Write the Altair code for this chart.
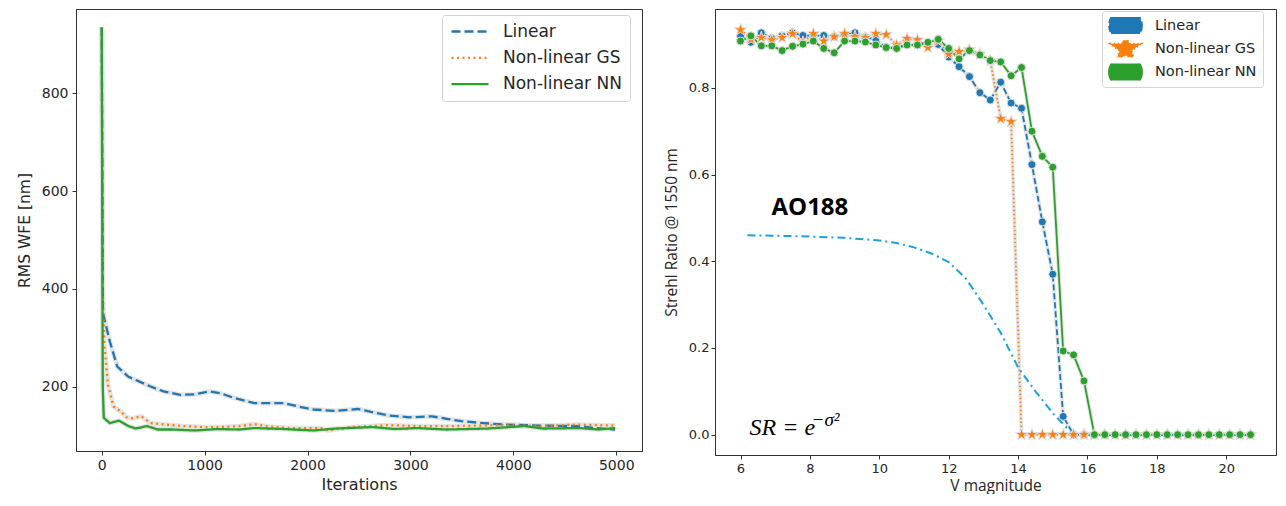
import altair as alt
import pandas as pd

SERIES = ["Linear", "Non-linear GS", "Non-linear NN"]
COLORS = ["#1f77b4", "#ff7f0e", "#2ca02c"]
STAR = ("M0,-1L0.223,-0.307L0.951,-0.309L0.361,0.117L0.588,0.809L0,0.38L-0.588,0.809"
        "L-0.361,0.117L-0.951,-0.309L-0.223,-0.307Z")

lin_it = [0, 12, 25, 79, 151, 259, 367, 475, 601, 763, 906, 1050, 1158, 1266, 1482, 1770,
          1914, 2058, 2273, 2489, 2597, 2777, 2993, 3209, 3353, 3496, 3712, 3928, 4288,
          4647, 4791, 4989]
lin_v = [935, 352, 339, 292, 241, 220, 210, 200, 190, 183, 184, 190, 186, 178, 166, 166,
         159, 153, 150, 154, 149, 141, 137, 139, 134, 129, 125, 122, 120, 119, 115, 112]
gs_it = [0, 10, 25, 61, 115, 187, 241, 300, 385, 475, 619, 799, 978, 1158, 1338, 1482,
         1626, 1842, 2129, 2201, 2417, 2777, 3065, 3424, 3856, 4288, 4612, 4989]
gs_v = [935, 400, 285, 203, 159, 149, 137, 135, 139, 125, 122, 119, 117, 117, 119, 123,
        118, 115, 115, 110, 117, 121, 119, 119, 121, 119, 122, 120]
nn_it = [0, 10, 20, 79, 169, 259, 331, 439, 547, 691, 906, 1122, 1338, 1482, 1770, 2058,
         2273, 2633, 2849, 3065, 3353, 3748, 4108, 4288, 4647, 4827, 4989]
nn_v = [935, 200, 136, 125, 130, 119, 114, 119, 112, 112, 110, 113, 112, 115, 113, 110,
        114, 117, 113, 115, 112, 114, 119, 114, 115, 112, 115]

mag = [6.0, 6.3, 6.6, 6.9, 7.2, 7.5, 7.8, 8.1, 8.4, 8.7, 9.0, 9.3, 9.6, 9.9, 10.2, 10.5,
       10.8, 11.1, 11.4, 11.7, 12.0, 12.3, 12.6, 12.9, 13.2, 13.5, 13.8, 14.1, 14.4, 14.7,
       15.0, 15.3, 15.6, 15.9, 16.2, 16.5, 16.8, 17.1, 17.4, 17.7, 18.0, 18.3, 18.6, 18.9,
       19.2, 19.5, 19.8, 20.1, 20.4, 20.7]
linear_sr = [0.92, 0.905, 0.927, 0.914, 0.92, 0.927, 0.921, 0.92, 0.921, 0.918, 0.923, 0.927,
             0.916, 0.912, 0.893, 0.893, 0.90, 0.899, 0.90, 0.90, 0.871, 0.849, 0.826, 0.789,
             0.772, 0.813, 0.765, 0.753, 0.623, 0.491, 0.37, 0.042, 0, 0, 0, 0, 0, 0, 0, 0,
             0, 0, 0, 0, 0, 0, 0, 0, 0, 0]
gs_sr = [0.934, 0.912, 0.916, 0.911, 0.916, 0.925, 0.905, 0.925, 0.908, 0.918, 0.925, 0.918,
         0.916, 0.925, 0.923, 0.899, 0.914, 0.911, 0.893, 0.908, 0.878, 0.884, 0.888, 0.878,
         0.863, 0.729, 0.722, 0, 0, 0, 0, 0, 0, 0, 0, 0, 0, 0, 0, 0, 0, 0, 0, 0, 0, 0, 0, 0,
         0, 0]
nn_sr = [0.908, 0.92, 0.897, 0.897, 0.886, 0.896, 0.901, 0.908, 0.891, 0.881, 0.908, 0.908,
         0.906, 0.899, 0.893, 0.891, 0.899, 0.899, 0.905, 0.912, 0.891, 0.867, 0.886, 0.876,
         0.863, 0.86, 0.828, 0.847, 0.70, 0.642, 0.617, 0.193, 0.184, 0.124, 0, 0, 0, 0, 0,
         0, 0, 0, 0, 0, 0, 0, 0, 0, 0, 0]

theory_x = [6.2, 7.0, 8.0, 9.0, 10.0, 10.5, 11.0, 11.5, 12.0, 12.5, 13.0, 13.5, 14.0, 14.5,
            15.0, 15.4, 15.7, 20.7]
theory_y = [0.46, 0.459, 0.457, 0.454, 0.448, 0.442, 0.432, 0.418, 0.398, 0.36, 0.30, 0.235,
            0.155, 0.10, 0.05, 0.016, 0.0, 0.0]

note_text = ["AO188", "SR = e", "\u2212\u03c3\u00b2"]
note_x = [8.0, 6.26, 8.05]
note_y = [0.523, 0.0, 0.02]
note_kind = ["label", "formula", "sup"]

left_df = pd.DataFrame({
    "iter": lin_it + gs_it + nn_it,
    "rms": lin_v + gs_v + nn_v,
    "series": [SERIES[0]] * len(lin_it) + [SERIES[1]] * len(gs_it) + [SERIES[2]] * len(nn_it),
})
right_df = pd.DataFrame({
    "mag": mag * 3,
    "sr": linear_sr + gs_sr + nn_sr,
    "series": [SERIES[0]] * 50 + [SERIES[1]] * 50 + [SERIES[2]] * 50,
    "marker": [SERIES[0]] * 50 + [SERIES[1]] * 50 + [SERIES[2]] * 50,
})
theory_df = pd.DataFrame({"mag": theory_x, "sr": theory_y})
notes_df = pd.DataFrame({"mag": note_x, "sr": note_y, "t": note_text, "kind": note_kind})

AX = dict(domainColor="#333333", tickColor="#333333", labelColor="#262626",
          titleColor="#262626", grid=False, tickSize=4, titleFontWeight="normal")

# ---------------- left panel ----------------
xl = alt.X("iter:Q", scale=alt.Scale(domain=[-250, 5250], nice=False, zero=False),
           axis=alt.Axis(values=[0, 1000, 2000, 3000, 4000, 5000], format="d", title="Iterations",
                         labelFont="DejaVu Sans", labelFontSize=14, titleFont="DejaVu Sans",
                         titleFontSize=16, labelPadding=3, titlePadding=4, **AX))
yl = alt.Y("rms:Q", scale=alt.Scale(domain=[68, 973], nice=False, zero=False),
           axis=alt.Axis(values=[200, 400, 600, 800], title="RMS WFE [nm]",
                         labelFont="DejaVu Sans", labelFontSize=14, titleFont="DejaVu Sans",
                         titleFontSize=15.5, labelPadding=4, titlePadding=9, **AX))

leg_left = alt.Legend(title=None, orient="none", legendX=366, legendY=6, symbolType="stroke",
                      symbolSize=1369, symbolStrokeWidth=2.3, labelFont="DejaVu Sans",
                      labelFontSize=17, labelColor="#262626", labelOffset=13, padding=8,
                      clipHeight=17, rowPadding=8.3, fillColor="white", strokeColor="#d4d4d4",
                      cornerRadius=3, labelLimit=400)

left_base = alt.Chart(left_df)
left_halo = left_base.mark_line(strokeWidth=4.8, color="#e4e4e4").encode(
    x=xl, y=yl, detail="series:N")
left_lines = left_base.mark_line(strokeWidth=2.3).encode(
    x=xl, y=yl,
    color=alt.Color("series:N", scale=alt.Scale(domain=SERIES, range=COLORS), legend=leg_left),
    strokeDash=alt.StrokeDash("series:N", scale=alt.Scale(domain=SERIES, range=[[9, 4], [2, 3.5], [1, 0]]),
                              legend=leg_left),
)
left = alt.layer(left_halo, left_lines).properties(width=566, height=442)

# ---------------- right panel ----------------
xr = alt.X("mag:Q", scale=alt.Scale(domain=[5.265, 21.435], nice=False, zero=False),
           axis=alt.Axis(values=[6, 8, 10, 12, 14, 16, 18, 20], title="V magnitude",
                         labelFont="DejaVu Sans", labelFontSize=13, titleFont="Open Sans",
                         titleFontSize=15.5, labelPadding=3, titlePadding=3, **AX))
yr = alt.Y("sr:Q", scale=alt.Scale(domain=[-0.047, 0.982], nice=False, zero=False),
           axis=alt.Axis(values=[0.0, 0.2, 0.4, 0.6, 0.8], format=".1f",
                         title="Strehl Ratio @ 1550 nm", labelFont="DejaVu Sans",
                         labelFontSize=13, titleFont="Open Sans", titleFontSize=15.5,
                         labelPadding=2, titlePadding=9, **AX))

leg_r_lines = alt.Legend(title=None, orient="none", legendX=387, legendY=2, symbolType="stroke",
                         symbolSize=1089, symbolStrokeWidth=1.8, labelFont="DejaVu Sans",
                         labelFontSize=14.5, labelColor="#262626", labelOffset=12, padding=6,
                         clipHeight=17, rowPadding=6.3, fillColor="white",
                         strokeColor="#d4d4d4", cornerRadius=3, labelLimit=400)

rb = alt.Chart(right_df)
r_halo = rb.mark_line(strokeWidth=3.8, color="#e4e4e4").encode(x=xr, y=yr, detail="series:N")
r_lines = rb.mark_line(strokeWidth=1.8).encode(
    x=xr, y=yr,
    color=alt.Color("series:N", scale=alt.Scale(domain=SERIES, range=COLORS), legend=leg_r_lines),
    strokeDash=alt.StrokeDash("series:N", scale=alt.Scale(domain=SERIES, range=[[6, 3], [1.5, 2.5], [1, 0]]),
                              legend=leg_r_lines),
)
r_theory = alt.Chart(theory_df).mark_line(strokeWidth=2, color="#1ba1e2",
                                          strokeDash=[8, 4, 2, 4]).encode(x=xr, y=yr)
r_points = rb.mark_point(filled=True, opacity=1, stroke="#e2e2e2", strokeWidth=1).encode(
    x=xr, y=yr,
    fill=alt.Fill("marker:N", scale=alt.Scale(domain=SERIES, range=COLORS), legend=None),
    shape=alt.Shape("marker:N", scale=alt.Scale(domain=SERIES, range=["circle", STAR, "circle"]),
                    legend=None),
    size=alt.condition(alt.datum.marker == "Non-linear GS", alt.value(169), alt.value(64)),
)
nb = alt.Chart(notes_df)
ao = nb.mark_text(font="Open Sans", fontWeight="bold", fontSize=24, color="black",
                  align="center", baseline="middle").encode(
    x=xr, y=yr, text="t:N").transform_filter(alt.datum.kind == "label")
f_main = nb.mark_text(font="Liberation Serif", fontStyle="italic", fontSize=24, color="black",
                      align="left", baseline="alphabetic").encode(
    x=xr, y=yr, text="t:N").transform_filter(alt.datum.kind == "formula")
f_sup = nb.mark_text(font="Liberation Serif", fontStyle="italic", fontSize=19, color="black",
                     align="left", baseline="alphabetic").encode(
    x=xr, y=yr, text="t:N").transform_filter(alt.datum.kind == "sup")

right = alt.layer(r_halo, r_lines, r_theory, r_points, ao, f_main, f_sup).properties(
    width=561, height=446)

chart = alt.hconcat(left, right, spacing=73, bounds="flush").resolve_scale(
    color="independent", strokeDash="independent", fill="independent", shape="independent"
).resolve_legend(
    color="independent", strokeDash="independent", fill="independent", shape="independent"
).properties(
    padding={"left": 8, "top": 0, "right": 0, "bottom": 0}
).configure_view(stroke="#333333", strokeWidth=1)

chart.save("out.html", embed_options={"renderer": "svg", "actions": False})
